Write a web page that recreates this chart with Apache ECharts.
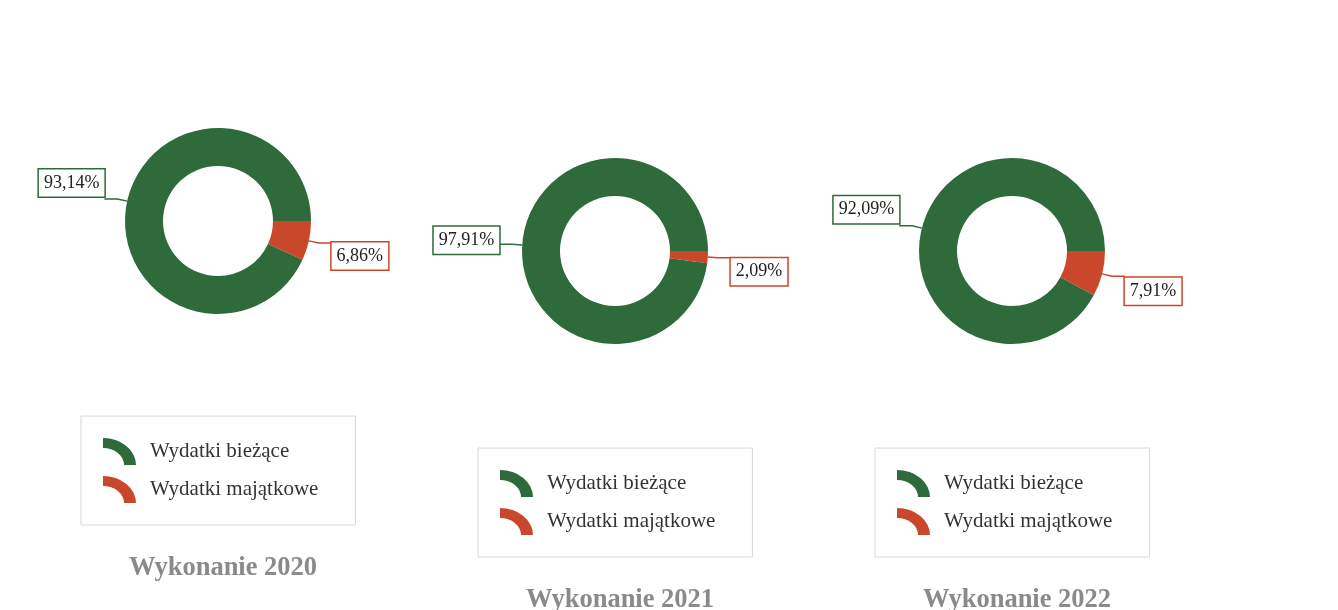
<!DOCTYPE html>
<html>
<head>
<meta charset="utf-8">
<script src="https://cdn.jsdelivr.net/npm/echarts@6/dist/echarts.min.js"></script>
<style>
  html, body { margin: 0; padding: 0; background: #fff; }
  #chart { width: 1338px; height: 610px; }
</style>
</head>
<body>
<div id="chart"></div>
<script>
// data
const categories = ['Wydatki bieżące', 'Wydatki majątkowe'];
const years = ['2020', '2021', '2022'];
const biezace = [93.14, 97.91, 92.09];
const majatkowe = [6.86, 2.09, 7.91];

const GREEN = '#2e6a3a';
const RED = '#c9472b';
const FONT = "'Liberation Serif', 'Times New Roman', serif";

// layout of the three panels
const centers = [[218, 221], [615, 251], [1012, 251]];
const legendPos = [[81, 416], [478, 448], [875, 448]];
const titlePos = [[218, 550], [615, 582], [1012, 582]];
// vertical nudge of the boxed labels: [majątkowe, bieżące]
const labelDy = [[13, -16], [14, -4], [15, -16]];

const arcIcon = 'path://M0,0 A33,27 0 0 1 33,27 L21,27 A21,17 0 0 0 0,10 Z';

function fmt(v) {
  return v.toFixed(2).replace('.', ',') + '%';
}

const series = years.map(function (y, i) {
  return {
    name: 'Wykonanie ' + y,
    type: 'pie',
    center: centers[i],
    radius: [55, 93],
    startAngle: 0,
    clockwise: true,
    avoidLabelOverlap: false,
    color: [RED, GREEN],
    label: {
      show: true,
      position: 'outside',
      formatter: function (p) { return fmt(p.value); },
      fontFamily: FONT,
      fontSize: 18,
      color: '#222',
      backgroundColor: '#fff',
      borderWidth: 1.5,
      padding: [5, 5, 4, 5],
      distanceToLabelLine: 0
    },
    labelLine: {
      show: true,
      length: 10,
      length2: 13,
      smooth: false,
      lineStyle: { width: 1.5 }
    },
    labelLayout: function (p) {
      return { dy: labelDy[i][p.dataIndex] };
    },
    emphasis: { disabled: true },
    data: [
      { name: categories[1], value: majatkowe[i], label: { borderColor: RED }, labelLine: { lineStyle: { color: RED } } },
      { name: categories[0], value: biezace[i], label: { borderColor: GREEN }, labelLine: { lineStyle: { color: GREEN } } }
    ]
  };
});

const legends = years.map(function (y, i) {
  return {
    orient: 'vertical',
    left: legendPos[i][0],
    top: legendPos[i][1],
    data: categories,
    icon: arcIcon,
    symbolKeepAspect: false,
    itemWidth: 33,
    itemHeight: 27,
    itemGap: 11,
    padding: [22, 37, 22, 22],
    borderColor: '#d8d8d8',
    borderWidth: 1,
    backgroundColor: '#fff',
    selectedMode: false,
    textStyle: {
      fontFamily: FONT,
      fontSize: 21,
      color: '#333',
      padding: [0, 0, 0, 9]
    }
  };
});

const titles = years.map(function (y, i) {
  return {
    text: 'Wykonanie ' + y,
    left: titlePos[i][0],
    top: titlePos[i][1],
    textAlign: 'center',
    textStyle: {
      fontFamily: FONT,
      fontSize: 26.5,
      fontWeight: 'bold',
      color: '#8a8a8a'
    }
  };
});

const chart = echarts.init(document.getElementById('chart'));
chart.setOption({
  backgroundColor: '#fff',
  animation: false,
  title: titles,
  legend: legends,
  series: series
});
</script>
</body>
</html>
